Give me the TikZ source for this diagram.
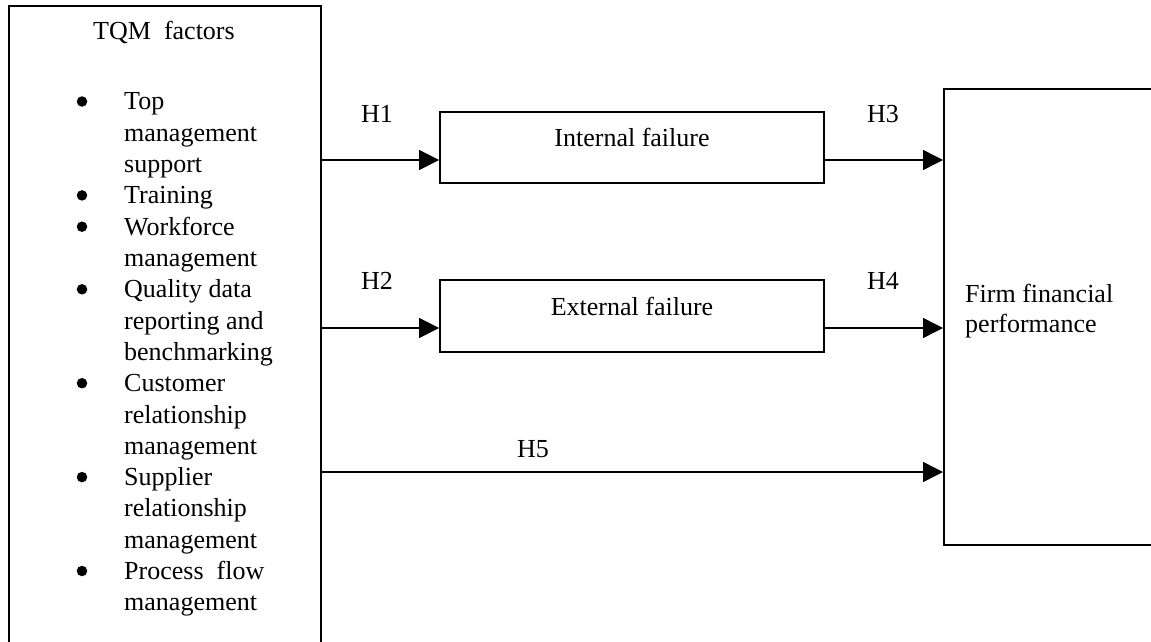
\documentclass[tikz,border=0pt]{standalone}
\usepackage{fontspec}
\setmainfont{Liberation Serif}
\usetikzlibrary{arrows.meta}
\tikzset{
  txt/.style={inner sep=0pt, anchor=base, font=\fontsize{26}{31}\selectfont, text=black},
  listtxt/.style={txt, anchor=base west},
  bul/.style={circle, fill=black, draw=none, inner sep=0pt, minimum size=10.5pt},
  boxline/.style={draw=black, line width=1.8pt, inner sep=0pt, fill=none},
  fbox/.style={boxline, minimum width=384pt, minimum height=71pt},
  arr/.style={draw=black, line width=1.4pt, -{Triangle[length=20pt,width=20pt]}}
}
\begin{document}
\begin{tikzpicture}[x=1pt,y=-1pt]
\useasboundingbox (0,0) rectangle (1151,642);
\clip (0,0) rectangle (1151,642);
% left box (continues below the picture)
\node[boxline, anchor=north west, minimum width=312pt, minimum height=700pt] (tqm) at (8,5) {};
\node[txt] (title) at (164,39.3) {TQM~~factors};
\foreach \t [count=\i] in {Top, management, support, Training, Workforce, management, Quality data, reporting and, benchmarking, Customer, relationship, management, Supplier, relationship, management, Process~~flow, management}
  \node[listtxt] (l\i) at (124,{110+(\i-1)*31.3}) {\t};
\foreach \i in {1,4,5,7,10,13,16}
  \node[bul] (b\i) at (82,{110+(\i-1)*31.3-8.5}) {};
% middle boxes
\node[fbox] (ib) at (632,147.5) {};
\node[txt] (ibt) at (632,146) {Internal failure};
\node[fbox, minimum height=72pt] (eb) at (632,316) {};
\node[txt] (ebt) at (632,315) {External failure};
% right box (continues beyond the right edge)
\node[boxline, anchor=north west, minimum width=260pt, minimum height=456pt] (ffp) at (943,88) {};
\node[listtxt] (f1) at (965,302) {Firm financial};
\node[listtxt] (f2) at (965,332) {performance};
% levels
\coordinate (y1) at (0,160);
\coordinate (y2) at (0,328);
\coordinate (y5) at (0,472);
% connectors
\draw[arr] (tqm.east |- y1) -- (ib.west |- y1);
\draw[arr] (ib.east |- y1) -- (ffp.west |- y1);
\draw[arr] (tqm.east |- y2) -- (eb.west |- y2);
\draw[arr] (eb.east |- y2) -- (ffp.west |- y2);
\draw[arr] (tqm.east |- y5) -- (ffp.west |- y5);
% labels
\node[txt] (h1) at (377,122) {H1};
\node[txt] (h2) at (377,289) {H2};
\node[txt] (h3) at (883,122) {H3};
\node[txt] (h4) at (883,289) {H4};
\node[txt] (h5) at (533,457) {H5};
\end{tikzpicture}
\end{document}
